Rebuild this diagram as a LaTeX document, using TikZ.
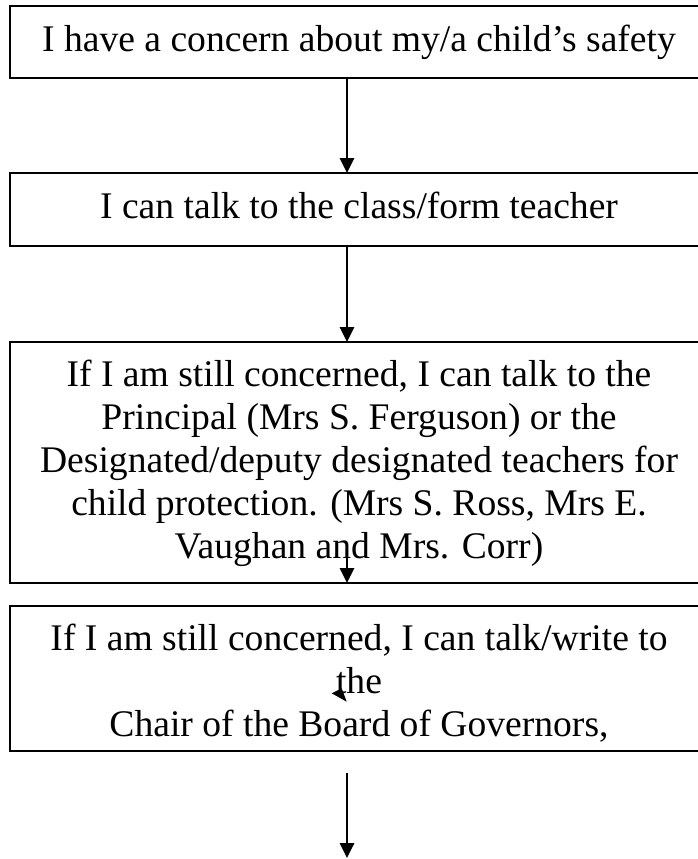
\documentclass[tikz,border=0pt]{standalone}
\usepackage{fontspec}
\setmainfont{Liberation Serif}
\usetikzlibrary{arrows.meta}
\begin{document}
\begin{tikzpicture}[x=1pt,y=-1pt,
  flowbox/.style={draw=black, line width=1.8pt, minimum width=698pt, inner sep=0pt, outer sep=0pt,
    align=center, font=\fontsize{37.6pt}{43pt}\selectfont},
  flowarrow/.style={line width=1.8pt, -{Triangle[width=14.5pt,length=15pt]}}]
\useasboundingbox (0,0) rectangle (697,859);
\node[flowbox, minimum height=72pt] (b1) at (359,42) {I have a concern about my/a child’s safety};
\node[flowbox, minimum height=73pt] (b2) at (359,209.5) {\rule[-8pt]{0pt}{8pt}I can talk to the class/form teacher};
\node[flowbox, minimum height=241pt] (b3) at (359,462.5) {\rule{0pt}{28pt}If I am still concerned, I can talk to the\\Principal (Mrs S. Ferguson) or the\\Designated/deputy designated teachers for\\child protection. (Mrs S. Ross, Mrs E.\\Vaughan and Mrs. Corr)};
\node[flowbox, minimum height=145pt] (b4) at (359,678.5) {\rule{0pt}{35pt}If I am still concerned, I can talk/write to\\the\\Chair of the Board of Governors,};
\coordinate (ax) at (347,0);
\coordinate (a3start) at (347,553);
\coordinate (a4start) at (347,773);
\coordinate (a4end) at (347,858);
\draw[flowarrow] (b1.south -| ax) -- (b2.north -| ax);
\draw[flowarrow] (b2.south -| ax) -- (b3.north -| ax);
\draw[flowarrow] (a3start) -- (b3.south -| ax);
\draw[flowarrow] (a4start) -- (a4end);
\fill[black] (331.7,693.3) -- (341.7,688.3) -- (346.7,701.7) -- cycle;
\end{tikzpicture}
\end{document}
